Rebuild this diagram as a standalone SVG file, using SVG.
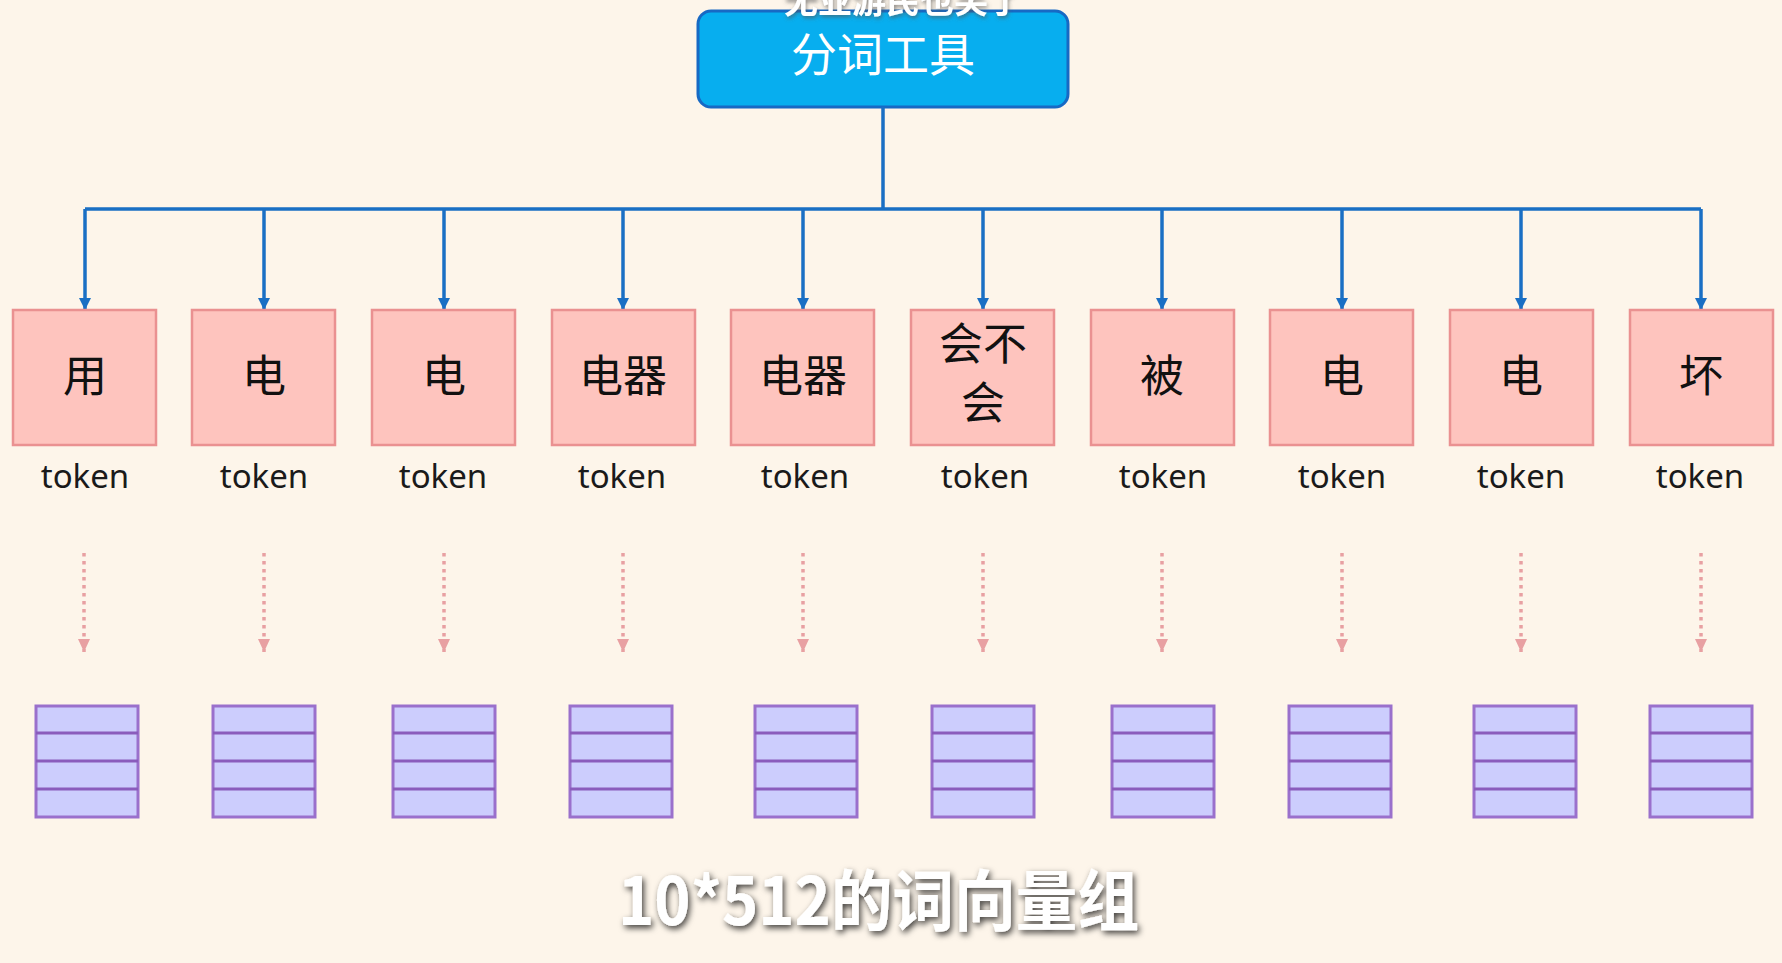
<svg xmlns="http://www.w3.org/2000/svg" width="1782" height="963" viewBox="0 0 1782 963">
<defs>
<marker id="ab" markerWidth="12" markerHeight="12" viewBox="0 0 12 12" refX="12" refY="6" orient="auto" markerUnits="userSpaceOnUse">
<path d="M0,0 L12,6 L0,12 Z" fill="#1a6fc4"/>
</marker>
<marker id="ap" markerWidth="13" markerHeight="12" viewBox="0 0 13 12" refX="13" refY="6" orient="auto" markerUnits="userSpaceOnUse">
<path d="M0,0 L13,6 L0,12 Z" fill="#e8a0a2"/>
</marker>
<filter id="sh" x="-10%" y="-30%" width="120%" height="160%">
<feDropShadow dx="2" dy="3" stdDeviation="3" flood-color="#000" flood-opacity="0.75"/>
</filter>
<filter id="sh2" x="-10%" y="-50%" width="120%" height="200%">
<feDropShadow dx="1" dy="2" stdDeviation="2" flood-color="#555" flood-opacity="0.7"/>
</filter>
</defs>
<style>
.tok rect{fill:#fec4be;stroke:#ea9191;stroke-width:2.5}
.tok text.c{font-family:"Noto Sans CJK SC","Noto Sans",sans-serif;font-size:44px;fill:#111;text-anchor:middle}
.tok text.t{font-family:"Noto Sans","Open Sans",sans-serif;font-size:33px;fill:#1a1a1a;text-anchor:middle}
.vec rect{fill:#cccdfd;stroke:#9a70cc;stroke-width:3}
.vec line{stroke:#8a5cbc;stroke-width:3}
.blue{stroke:#1a6fc4;stroke-width:3.5;fill:none}
.dot{stroke:#e8a0a2;stroke-width:3.5;stroke-dasharray:3.5 4.5;fill:none}
</style>
<rect width="1782" height="963" fill="#fdf5ea"/>

<g id="root">
<rect x="698" y="11" width="370" height="96" rx="13" fill="#07aeef" stroke="#1769c4" stroke-width="3"/>
<text x="883" y="71" font-family="Noto Sans CJK SC,sans-serif" font-size="46" fill="#fff" text-anchor="middle">分词工具</text>
</g>
<text x="903" y="13" font-family="Noto Sans CJK SC,sans-serif" font-size="34" font-weight="bold" fill="#fff" text-anchor="middle" filter="url(#sh2)">无业游民也笑了</text>

<g id="connectors">
<path class="blue" d="M883,107 V209 M85,209 H1701"/>
<path class="blue" marker-end="url(#ab)" d="M85,209 V310"/>
<path class="blue" marker-end="url(#ab)" d="M264,209 V310"/>
<path class="blue" marker-end="url(#ab)" d="M444,209 V310"/>
<path class="blue" marker-end="url(#ab)" d="M623,209 V310"/>
<path class="blue" marker-end="url(#ab)" d="M803,209 V310"/>
<path class="blue" marker-end="url(#ab)" d="M983,209 V310"/>
<path class="blue" marker-end="url(#ab)" d="M1162,209 V310"/>
<path class="blue" marker-end="url(#ab)" d="M1342,209 V310"/>
<path class="blue" marker-end="url(#ab)" d="M1521,209 V310"/>
<path class="blue" marker-end="url(#ab)" d="M1701,209 V310"/>
<path class="dot" marker-end="url(#ap)" d="M84,553 V652"/>
<path class="dot" marker-end="url(#ap)" d="M264,553 V652"/>
<path class="dot" marker-end="url(#ap)" d="M444,553 V652"/>
<path class="dot" marker-end="url(#ap)" d="M623,553 V652"/>
<path class="dot" marker-end="url(#ap)" d="M803,553 V652"/>
<path class="dot" marker-end="url(#ap)" d="M983,553 V652"/>
<path class="dot" marker-end="url(#ap)" d="M1162,553 V652"/>
<path class="dot" marker-end="url(#ap)" d="M1342,553 V652"/>
<path class="dot" marker-end="url(#ap)" d="M1521,553 V652"/>
<path class="dot" marker-end="url(#ap)" d="M1701,553 V652"/>
</g>

<g id="tok1" class="tok"><rect x="13" y="310" width="143" height="135"/><text class="c" x="85" y="392">用</text><text class="t" x="85" y="488">token</text></g>
<g id="tok2" class="tok"><rect x="192" y="310" width="143" height="135"/><text class="c" x="264" y="392">电</text><text class="t" x="264" y="488">token</text></g>
<g id="tok3" class="tok"><rect x="372" y="310" width="143" height="135"/><text class="c" x="444" y="392">电</text><text class="t" x="443" y="488">token</text></g>
<g id="tok4" class="tok"><rect x="552" y="310" width="143" height="135"/><text class="c" x="623" y="392">电器</text><text class="t" x="622" y="488">token</text></g>
<g id="tok5" class="tok"><rect x="731" y="310" width="143" height="135"/><text class="c" x="803" y="392">电器</text><text class="t" x="805" y="488">token</text></g>
<g id="tok6" class="tok"><rect x="911" y="310" width="143" height="135"/><text class="c" x="983" y="360">会不</text><text class="c" x="983" y="419">会</text><text class="t" x="985" y="488">token</text></g>
<g id="tok7" class="tok"><rect x="1091" y="310" width="143" height="135"/><text class="c" x="1162" y="392">被</text><text class="t" x="1163" y="488">token</text></g>
<g id="tok8" class="tok"><rect x="1270" y="310" width="143" height="135"/><text class="c" x="1342" y="392">电</text><text class="t" x="1342" y="488">token</text></g>
<g id="tok9" class="tok"><rect x="1450" y="310" width="143" height="135"/><text class="c" x="1521" y="392">电</text><text class="t" x="1521" y="488">token</text></g>
<g id="tok10" class="tok"><rect x="1630" y="310" width="143" height="135"/><text class="c" x="1701" y="392">坏</text><text class="t" x="1700" y="488">token</text></g>

<g id="vec1" class="vec"><rect x="36" y="706" width="102" height="111"/><line x1="36" y1="733" x2="138" y2="733"/><line x1="36" y1="761" x2="138" y2="761"/><line x1="36" y1="789" x2="138" y2="789"/></g>
<g id="vec2" class="vec"><rect x="213" y="706" width="102" height="111"/><line x1="213" y1="733" x2="315" y2="733"/><line x1="213" y1="761" x2="315" y2="761"/><line x1="213" y1="789" x2="315" y2="789"/></g>
<g id="vec3" class="vec"><rect x="393" y="706" width="102" height="111"/><line x1="393" y1="733" x2="495" y2="733"/><line x1="393" y1="761" x2="495" y2="761"/><line x1="393" y1="789" x2="495" y2="789"/></g>
<g id="vec4" class="vec"><rect x="570" y="706" width="102" height="111"/><line x1="570" y1="733" x2="672" y2="733"/><line x1="570" y1="761" x2="672" y2="761"/><line x1="570" y1="789" x2="672" y2="789"/></g>
<g id="vec5" class="vec"><rect x="755" y="706" width="102" height="111"/><line x1="755" y1="733" x2="857" y2="733"/><line x1="755" y1="761" x2="857" y2="761"/><line x1="755" y1="789" x2="857" y2="789"/></g>
<g id="vec6" class="vec"><rect x="932" y="706" width="102" height="111"/><line x1="932" y1="733" x2="1034" y2="733"/><line x1="932" y1="761" x2="1034" y2="761"/><line x1="932" y1="789" x2="1034" y2="789"/></g>
<g id="vec7" class="vec"><rect x="1112" y="706" width="102" height="111"/><line x1="1112" y1="733" x2="1214" y2="733"/><line x1="1112" y1="761" x2="1214" y2="761"/><line x1="1112" y1="789" x2="1214" y2="789"/></g>
<g id="vec8" class="vec"><rect x="1289" y="706" width="102" height="111"/><line x1="1289" y1="733" x2="1391" y2="733"/><line x1="1289" y1="761" x2="1391" y2="761"/><line x1="1289" y1="789" x2="1391" y2="789"/></g>
<g id="vec9" class="vec"><rect x="1474" y="706" width="102" height="111"/><line x1="1474" y1="733" x2="1576" y2="733"/><line x1="1474" y1="761" x2="1576" y2="761"/><line x1="1474" y1="789" x2="1576" y2="789"/></g>
<g id="vec10" class="vec"><rect x="1650" y="706" width="102" height="111"/><line x1="1650" y1="733" x2="1752" y2="733"/><line x1="1650" y1="761" x2="1752" y2="761"/><line x1="1650" y1="789" x2="1752" y2="789"/></g>

<text x="618" y="925" textLength="521" lengthAdjust="spacingAndGlyphs" font-family="Noto Sans CJK SC,sans-serif" font-size="66" font-weight="bold" fill="#fff" filter="url(#sh)">10*512的词向量组</text>
</svg>
